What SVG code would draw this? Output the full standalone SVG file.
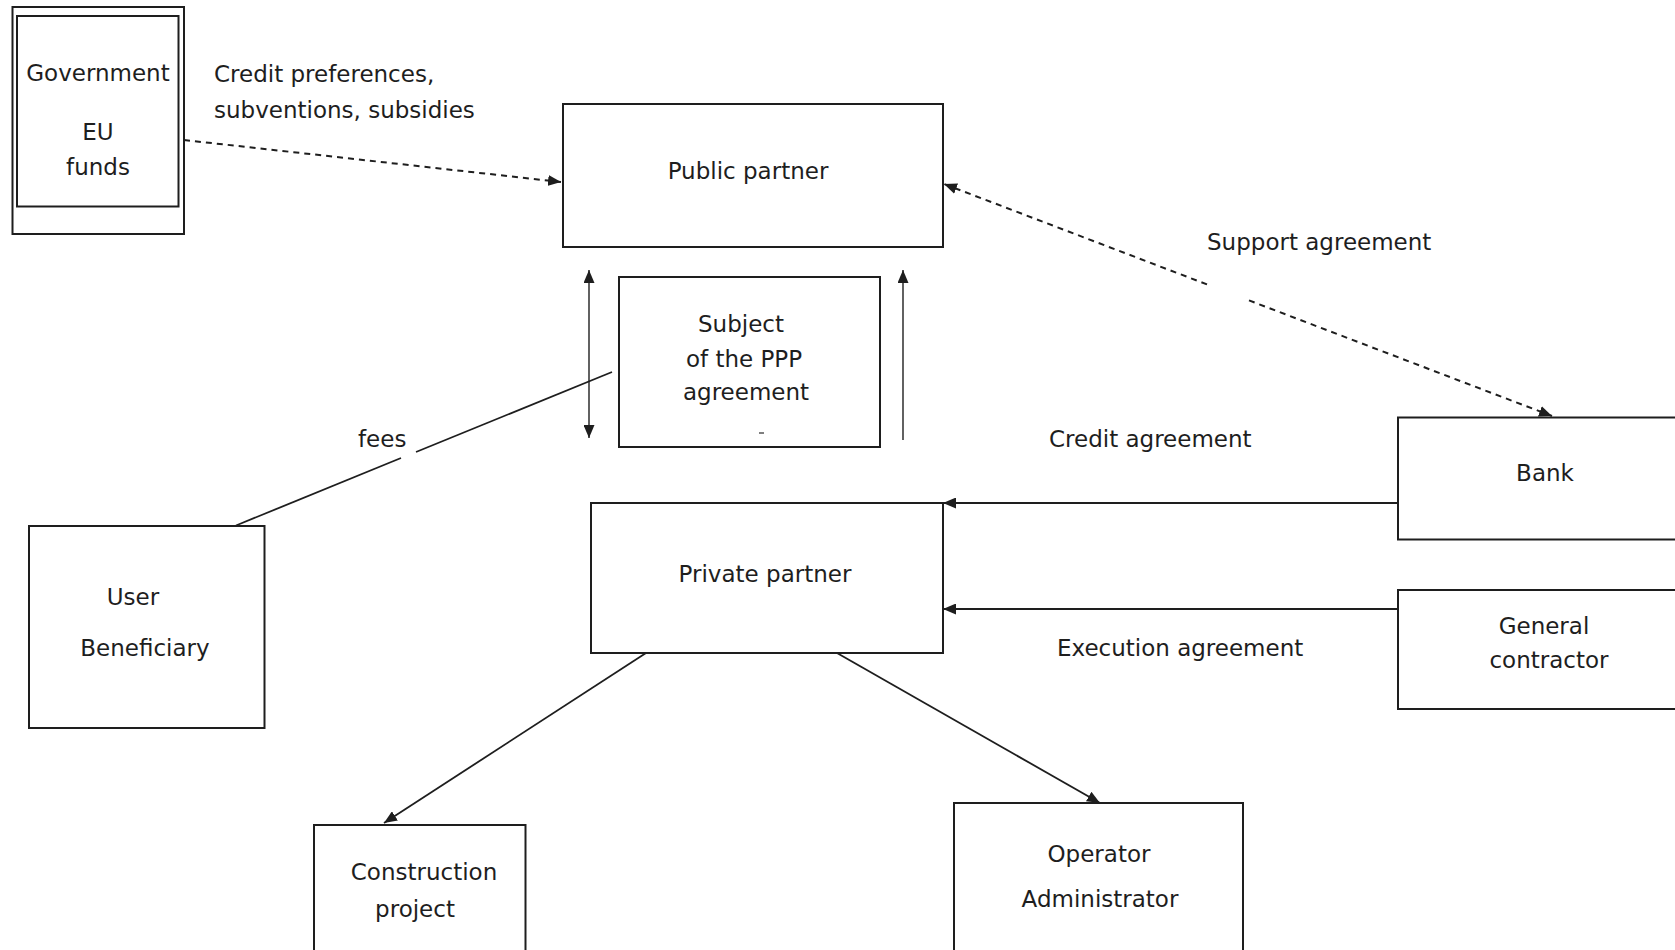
<svg xmlns="http://www.w3.org/2000/svg" width="1675" height="950" viewBox="0 0 1675 950">
  <style>
    .box { fill: #ffffff; stroke: #1e1e1e; stroke-width: 2; }
    .lbl { font-family: "DejaVu Sans", "Liberation Sans", sans-serif; font-size: 23px; fill: #1e1e1e; }
    .mid { text-anchor: middle; }
    .solid { stroke: #1e1e1e; stroke-width: 1.8; fill: none; }
    .thin { stroke: #3a3a3a; stroke-width: 1.6; fill: none; }
    .dash { stroke: #1e1e1e; stroke-width: 2; fill: none; stroke-dasharray: 6 5; }
  </style>
  <defs>
    <marker id="arrow" markerUnits="userSpaceOnUse" markerWidth="13" markerHeight="11" refX="13" refY="5.5" orient="auto-start-reverse">
      <path d="M0,0 L13,5.5 L0,11 z" fill="#1e1e1e"/>
    </marker>
  </defs>
  <rect width="1675" height="950" fill="#ffffff"/>

  <g id="government">
    <rect class="box" x="12.5" y="7" width="171.5" height="227"/>
    <rect class="box" x="17" y="16" width="161.5" height="190.5"/>
    <text class="lbl mid" x="98" y="81">Government</text>
    <text class="lbl mid" x="98" y="140">EU</text>
    <text class="lbl mid" x="98" y="175">funds</text>
  </g>

  <g id="public-partner">
    <rect class="box" x="563" y="104" width="380" height="143"/>
    <text class="lbl mid" x="748" y="179">Public partner</text>
  </g>

  <g id="ppp-subject">
    <rect class="box" x="619" y="277" width="261" height="170"/>
    <text class="lbl mid" x="741" y="332">Subject</text>
    <text class="lbl mid" x="744" y="367">of the PPP</text>
    <text class="lbl mid" x="746" y="400">agreement</text>
    <line x1="759" y1="433" x2="764" y2="433" stroke="#555" stroke-width="1.5"/>
  </g>

  <g id="private-partner">
    <rect class="box" x="591" y="503" width="352" height="150"/>
    <text class="lbl mid" x="765" y="582">Private partner</text>
  </g>

  <g id="user">
    <rect class="box" x="29" y="526" width="235.5" height="202"/>
    <text class="lbl mid" x="133" y="605">User</text>
    <text class="lbl mid" x="145" y="656">Beneficiary</text>
  </g>

  <g id="bank">
    <rect class="box" x="1398" y="417.5" width="290" height="122"/>
    <text class="lbl mid" x="1545" y="481">Bank</text>
  </g>

  <g id="general-contractor">
    <rect class="box" x="1398" y="590" width="290" height="119"/>
    <text class="lbl mid" x="1544" y="634">General</text>
    <text class="lbl mid" x="1549" y="668">contractor</text>
  </g>

  <g id="construction-project">
    <rect class="box" x="314" y="825" width="211.5" height="140"/>
    <text class="lbl mid" x="424" y="880">Construction</text>
    <text class="lbl mid" x="415" y="917">project</text>
  </g>

  <g id="operator">
    <rect class="box" x="954" y="803" width="289" height="160"/>
    <text class="lbl mid" x="1099" y="862">Operator</text>
    <text class="lbl mid" x="1100" y="907">Administrator</text>
  </g>

  <g id="connectors">
    <line class="dash" x1="184" y1="140" x2="561" y2="182" marker-end="url(#arrow)"/>
    <line class="dash" x1="1207" y1="284.4" x2="944" y2="184" marker-end="url(#arrow)"/>
    <line class="dash" x1="1249" y1="300.4" x2="1552" y2="416" marker-end="url(#arrow)"/>
    <line class="solid" x1="1398" y1="503" x2="943" y2="503" marker-end="url(#arrow)"/>
    <line class="solid" x1="1398" y1="609" x2="943" y2="609" marker-end="url(#arrow)"/>
    <line class="thin" x1="589" y1="270" x2="589" y2="438" marker-start="url(#arrow)" marker-end="url(#arrow)"/>
    <line class="thin" x1="903" y1="440" x2="903" y2="270" marker-end="url(#arrow)"/>
    <line class="solid" x1="612" y1="372" x2="416" y2="452"/>
    <line class="solid" x1="401" y1="458" x2="236" y2="525.5"/>
    <line class="solid" x1="646" y1="653" x2="384" y2="823" marker-end="url(#arrow)"/>
    <line class="solid" x1="837" y1="653" x2="1100" y2="803" marker-end="url(#arrow)"/>
  </g>

  <g id="labels">
    <text class="lbl" x="214" y="82">Credit preferences,</text>
    <text class="lbl" x="214" y="118">subventions, subsidies</text>
    <text class="lbl" x="1207" y="250">Support agreement</text>
    <text class="lbl" x="1049" y="447">Credit agreement</text>
    <text class="lbl" x="1057" y="656">Execution agreement</text>
    <text class="lbl" x="358" y="447">fees</text>
  </g>
</svg>
